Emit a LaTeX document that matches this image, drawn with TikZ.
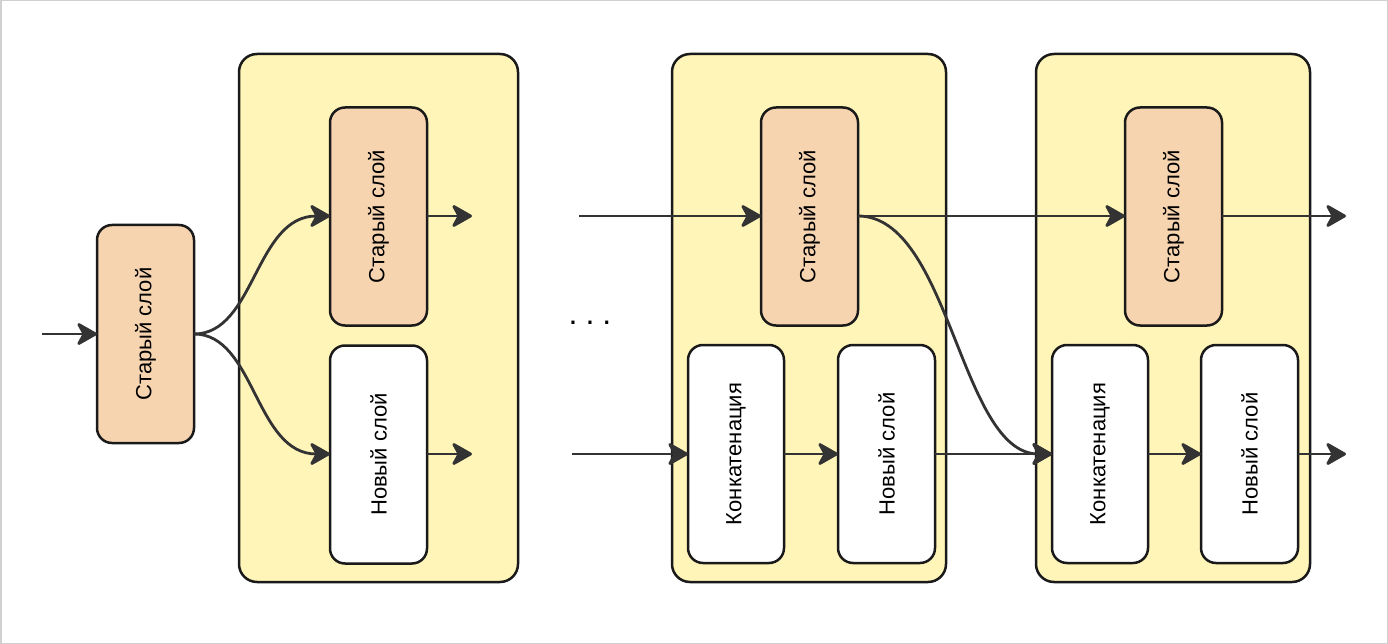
\documentclass[tikz,border=0pt]{standalone}
\usepackage{graphicx}
\usepackage{fontspec}
\setmainfont{Liberation Sans}
\usetikzlibrary{arrows.meta}
\definecolor{panel}{HTML}{FFF5B9}
\definecolor{oldfill}{HTML}{F7D4B0}
\definecolor{edge}{HTML}{1A1A1A}
\definecolor{wire}{HTML}{333333}
\definecolor{frame}{HTML}{D0D0D0}
\tikzset{
  panelbox/.style={draw=edge, fill=panel, line width=2.5pt, rounded corners=18pt,
    outer sep=0pt, inner sep=0pt},
  layerbox/.style={draw=edge, line width=2.5pt, rounded corners=15pt,
    outer sep=0pt, inner sep=0pt, minimum width=97pt, minimum height=218pt,
    font=\fontsize{22}{26}\selectfont},
  oldlayer/.style={layerbox, fill=oldfill},
  newlayer/.style={layerbox, fill=white},
  link/.style={draw=wire, line width=2.8pt,
    -{Stealth[length=23pt, width=26pt, inset=7pt, round]}},
}
\newcommand{\vtext}[1]{\rotatebox{90}{#1}}
\begin{document}
\begin{tikzpicture}[x=1pt, y=-1pt]
  \useasboundingbox (0,0) rectangle (1388,644);
  \draw[frame, line width=1.5pt] (0.75,0.75) rectangle (1387.25,643.25);

  % panels
  \node[panelbox, minimum width=279pt, minimum height=528pt] (c1) at (378.5,318) {};
  \node[panelbox, minimum width=274pt, minimum height=528pt] (c2) at (809,318) {};
  \node[panelbox, minimum width=274pt, minimum height=528pt] (c3) at (1173,318) {};

  % layers
  \node[oldlayer] (o0) at (145.5,334) {\vtext{Старый слой}};
  \node[oldlayer] (o1) at (378.5,216.5) {\vtext{Старый слой}};
  \node[newlayer] (n1) at (378.5,454.5) {\vtext{Новый слой}};

  \node[oldlayer] (o2) at (809.5,216.5) {\vtext{Старый слой}};
  \node[newlayer, minimum width=96pt] (k2) at (736,454) {\vtext{Конкатенация}};
  \node[newlayer] (n2) at (886.5,454) {\vtext{Новый слой}};

  \node[oldlayer] (o3) at (1173.5,216.5) {\vtext{Старый слой}};
  \node[newlayer, minimum width=96pt] (k3) at (1100,454) {\vtext{Конкатенация}};
  \node[newlayer] (n3) at (1249.5,454) {\vtext{Новый слой}};

  % ellipsis between the stages
  \node[font=\fontsize{32}{36}\selectfont, inner sep=0pt] (dots) at (590,323)
    {.\hspace{8pt}.\hspace{8pt}.};

  % free ends of connectors
  \coordinate (in0) at (42,334);
  \coordinate (in2a) at (579,216);
  \coordinate (in2b) at (572,454);
  \coordinate (e1a) at (472,216);
  \coordinate (e1b) at (472,454);
  \coordinate (e3a) at (1346,216);
  \coordinate (e3b) at (1346,454);

  % connectors
  \draw[link] (in0) -- (o0.west);
  \draw[link] (o0.east) .. controls (255,334) and (255,216) .. (o1.west |- e1a);
  \draw[link] (o0.east) .. controls (255,334) and (255,454) .. (n1.west |- e1b);
  \draw[link] (o1.east |- e1a) -- (e1a);
  \draw[link] (n1.east |- e1b) -- (e1b);

  \draw[link] (in2a) -- (o2.west |- in2a);
  \draw[link] (in2b) -- (k2.west);
  \draw[link] (k2.east) -- (n2.west);
  \draw[link] (o2.east |- in2a) -- (o3.west |- in2a);
  \draw[link] (o2.east |- in2a) .. controls (950,216) and (960,454) .. (k3.west);
  \draw[link] (n2.east) -- (k3.west);
  \draw[link] (k3.east) -- (n3.west);
  \draw[link] (o3.east |- e3a) -- (e3a);
  \draw[link] (n3.east) -- (e3b);
\end{tikzpicture}
\end{document}
